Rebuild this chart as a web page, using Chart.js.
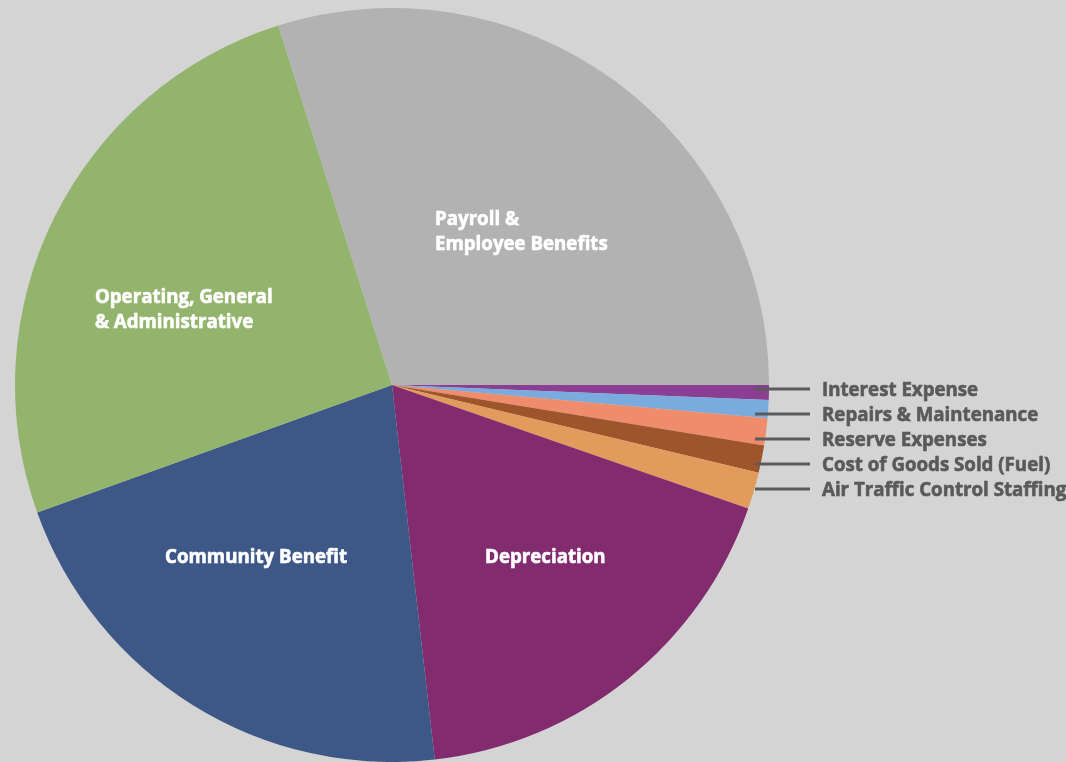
<!DOCTYPE html>
<html>
<head>
<meta charset="utf-8">
<title>Operating Expenses</title>
<script src="https://cdn.jsdelivr.net/npm/chart.js@4.4.1/dist/chart.umd.min.js"></script>
<style>
    html, body { margin: 0; padding: 0; background: #d3d4d3; }
    #wrap { width: 1066px; height: 762px; }
</style>
</head>
<body>
<div id="wrap"><canvas id="expense-chart" width="1066" height="762"></canvas></div>
<script>
// Expense categories, clockwise from 3 o'clock
const categories = [
    'Interest Expense',
    'Repairs & Maintenance',
    'Reserve Expenses',
    'Cost of Goods Sold (Fuel)',
    'Air Traffic Control Staffing',
    ['Depreciation'],
    ['Community Benefit'],
    ['Operating, General', '& Administrative'],
    ['Payroll &', 'Employee Benefits']
];

// Share of total expenses (%)
const shares = [0.63, 0.78, 1.16, 1.17, 1.57, 17.88, 21.32, 25.61, 29.88];

const sliceColors = [
    '#8a3f93', '#79abdf', '#ee8c6b', '#9e552b', '#e29b5c',
    '#822b6e', '#3d5787', '#93b46c', '#b2b2b2'
];

// Where the white labels sit inside the big slices (fraction of radius from centre)
const insideSpots = {
    5: [0.247, 0.472],
    6: [-0.602, 0.472],
    7: [-0.788, -0.2175],
    8: [0.114, -0.424]
};

const labelFont = 'bold 18.7px "Open Sans"';

// heavier text: fill plus a thin stroke in the same colour
function boldText(ctx, text, x, y, color) {
    ctx.fillStyle = color;
    ctx.strokeStyle = color;
    ctx.lineWidth = 0.6;
    ctx.fillText(text, x, y);
    ctx.strokeText(text, x, y);
}

const sliceLabels = {
    id: 'sliceLabels',
    afterDatasetsDraw(chart) {
        const ctx = chart.ctx;
        const arc = chart.getDatasetMeta(0).data[0];
        const cx = arc.x, cy = arc.y, r = arc.outerRadius;
        ctx.save();
        ctx.textAlign = 'left';
        ctx.textBaseline = 'alphabetic';
        ctx.font = labelFont;
        categories.forEach((label, i) => {
            const spot = insideSpots[i];
            if (spot) {
                [].concat(label).forEach((line, k) => {
                    boldText(ctx, line, cx + spot[0] * r, cy + spot[1] * r + k * 25, '#ffffff');
                });
                return;
            }
            // callout for the thin slices on the right
            const baseline = cy + 11 + i * 25;
            const x0 = cx + r - 14;
            ctx.strokeStyle = '#5b5b5b';
            ctx.lineWidth = 3;
            ctx.beginPath();
            ctx.moveTo(x0, baseline - 7);
            ctx.lineTo(x0 + 55, baseline - 7);
            ctx.stroke();
            boldText(ctx, label, x0 + 67, baseline, '#5a5a5a');
        });
        ctx.restore();
    }
};

new Chart(document.getElementById('expense-chart'), {
    type: 'pie',
    data: {
        labels: categories,
        datasets: [{
            data: shares,
            backgroundColor: sliceColors,
            borderWidth: 0
        }]
    },
    options: {
        responsive: false,
        animation: false,
        rotation: 90,
        layout: { padding: { left: 15, right: 297, top: 8, bottom: 0 } },
        plugins: {
            legend: { display: false },
            tooltip: { enabled: false }
        }
    },
    plugins: [sliceLabels]
});
</script>
</body>
</html>
